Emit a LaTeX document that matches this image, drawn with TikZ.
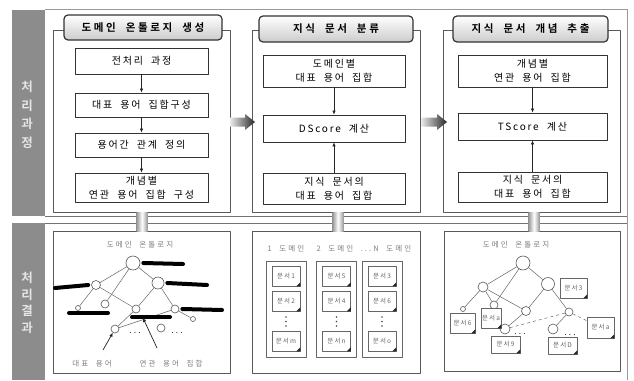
\documentclass[tikz,border=0pt]{standalone}
\usepackage{fontspec}
\setmainfont{Noto Sans CJK KR}
\newfontfamily\krbox[LetterSpace=18, WordSpace=2]{Noto Sans CJK KR}
\newfontfamily\krtitle[LetterSpace=25, WordSpace=2]{Noto Sans CJK KR Bold}
\newfontfamily\krsmall[LetterSpace=28, WordSpace=2]{Noto Sans CJK KR}
\usetikzlibrary{arrows.meta}
\usetikzlibrary{shapes, shadows}

\tikzset{
  band/.style={fill=black!45, draw=none},
  bandtext/.style={text=white!90!black, align=center, font=\krtitle\fontsize{12.5}{18.5}\selectfont},
  panel/.style={draw=black!65, line width=0.6pt},
  titlebox/.style={draw=black!80, line width=1.2pt, rounded corners=4pt, top color=white, bottom color=black!20,
    inner sep=0pt, font=\krtitle\fontsize{10.5}{12}\selectfont},
  procbox/.style={draw=black!80, line width=0.8pt, fill=white, align=center, inner sep=0pt,
    drop shadow={shadow xshift=0.9pt, shadow yshift=-0.9pt, fill=black!50, opacity=1},
    font=\krbox\fontsize{10}{14}\selectfont},
  flow/.style={black!85, line width=0.6pt, ->},
  graytext/.style={text=black!50, inner sep=0pt, font=\krsmall\fontsize{7.5}{9}\selectfont},
  colbox/.style={draw=black!60, line width=0.6pt, minimum width=40pt, minimum height=96pt, inner sep=0pt},
  doc/.style={draw=black!60, fill=white, line width=0.5pt, minimum width=28pt, minimum height=20pt, inner sep=0pt,
    text=black!60, font=\krbox\fontsize{6.5}{8}\selectfont},
  tnode/.style={circle, draw=black!65, fill=white, line width=0.6pt, inner sep=0pt, minimum size=#1},
  tedge/.style={draw=black!60, line width=0.5pt},
  bar/.style={black, line width=4pt, line cap=round},
}
\newcommand{\docfold}[1]{\fill[black!85] (#1.south east) -- ([xshift=-4pt]#1.south east) -- ([yshift=4pt]#1.south east) -- cycle;}

\begin{document}
\begin{tikzpicture}[x=1pt,y=-1pt,>={Latex[length=4pt,width=3.5pt]},line join=bevel]
\useasboundingbox (0,0) rectangle (634,380);
\fill[white] (0,0) rectangle (634,380);
%% frame and side band
\fill[band] (12,10) rectangle (45,216);
\fill[band] (12,223) rectangle (45,380);
\draw[black!40, line width=0.5pt] (45,9) -- (627,9) -- (627,380);
\draw[black!55, line width=0.7pt] (45,216) -- (627,216);
\draw[black!55, line width=0.7pt] (45,223) -- (627,223);
\node (band_top) at (27,115) [bandtext] {처\\리\\과\\정};
\node (band_bot) at (27,303) [bandtext, font=\krtitle\fontsize{12.5}{16.5}\selectfont] {처\\리\\결\\과};
%
\draw[panel] (53,30) rectangle (230,212);
\draw[panel] (252,30) rectangle (420,212);
\draw[panel] (443,30) rectangle (620,212);
\draw[panel] (53,231) rectangle (230,373);
\draw[panel] (252,231) rectangle (420,373);
\draw[panel] (444,231) rectangle (620,371);
%% links between the two rows
\foreach \cx in {142,338,534} {
  \shade[left color=black!40, right color=black!40, middle color=white] (\cx-5.5,212) rectangle (\cx+5.5,231);
}
%% arrows between panels
\shade[left color=black!8, right color=black!85] (230,117.5) -- (245,117.5) -- (245,114) -- (255,122) -- (245,130) -- (245,126.5) -- (230,126.5) -- cycle;
\shade[left color=black!8, right color=black!85] (421,117.5) -- (437,117.5) -- (437,114) -- (447,122) -- (437,130) -- (437,126.5) -- (421,126.5) -- cycle;
%% panel titles
\node (title_1) at (143,27.5) [titlebox, minimum width=158pt, minimum height=25pt] {도메인 온톨로지 생성};
\node (title_2) at (336,29) [titlebox, minimum width=154pt, minimum height=26pt] {지식 문서 분류};
\node (title_3) at (530.5,29) [titlebox, minimum width=155pt, minimum height=26pt] {지식 문서 개념 추출};
%% process steps
\node (box_1_1) at (141.5,61) [procbox, minimum width=133pt, minimum height=26pt] {전처리 과정};
\node (box_1_2) at (141.5,105) [procbox, minimum width=133pt, minimum height=24pt] {대표 용어 집합구성};
\node (box_1_3) at (141.5,145) [procbox, minimum width=133pt, minimum height=24pt] {용어간 관계 정의};
\node (box_1_4) at (141.5,187.5) [procbox, minimum width=133pt, minimum height=29pt] {개념별\\연관 용어 집합 구성};
\draw [flow] (box_1_1) -- (box_1_2);
\draw [flow] (box_1_2) -- (box_1_3);
\draw [flow] (box_1_3) -- (box_1_4);
\node (box_2_1) at (334,71) [procbox, minimum width=142pt, minimum height=32pt] {도메인별\\대표 용어 집합};
\node (box_2_2) at (334,128.5) [procbox, minimum width=142pt, minimum height=27pt] {DScore 계산};
\node (box_2_3) at (334,188.5) [procbox, minimum width=142pt, minimum height=31pt] {지식 문서의\\대표 용어 집합};
\draw [flow] (box_2_1) -- (box_2_2);
\draw [flow] (box_2_3) -- (box_2_2);
\node (box_3_1) at (532.5,71) [procbox, minimum width=149pt, minimum height=32pt] {개념별\\연관 용어 집합};
\node (box_3_2) at (532.5,126.5) [procbox, minimum width=149pt, minimum height=27pt] {TScore 계산};
\node (box_3_3) at (532.5,187) [procbox, minimum width=149pt, minimum height=30pt] {지식 문서의\\대표 용어 집합};
\draw [flow] (box_3_1) -- (box_3_2);
\draw [flow] (box_3_3) -- (box_3_2);
%% result 1: domain ontology
\node (onto_1) at (140,245) [graytext] {도메인 온톨로지};
\node (t1_root) at (133,263) [tnode=14pt] {};
\node (t1_a) at (96,285) [tnode=9pt] {};
\node (t1_b) at (158,283) [tnode=12pt] {};
\node (t1_c) at (78,308) [tnode=5pt] {};
\node (t1_d) at (105,304) [tnode=8pt] {};
\node (t1_e) at (136,309) [tnode=8pt] {};
\node (t1_f) at (175,309) [tnode=8pt] {};
\node (t1_g) at (193,319) [tnode=5pt] {};
\node (t1_h) at (115,329) [tnode=8pt] {};
\node (t1_i) at (161,328) [tnode=8pt] {};
\draw [tedge] (t1_root) -- (t1_a);
\draw [tedge] (t1_root) -- (t1_d);
\draw [tedge] (t1_root) -- (t1_b);
\draw [tedge] (t1_a) -- (t1_c);
\draw [tedge] (t1_a) -- (t1_e);
\draw [tedge] (t1_b) -- (t1_e);
\draw [tedge] (t1_b) -- (t1_f);
\draw [tedge] (t1_f) -- (t1_g);
\draw [tedge] (t1_h) -- (t1_e);
\draw [tedge] (t1_h) -- (t1_f);
\draw [bar] ([xshift=3pt]t1_root.east) -- (183,264);
\draw [bar] (55,288) -- ([xshift=-3pt]t1_a.west);
\draw [bar] ([xshift=3pt]t1_b.east) -- (207,285);
\draw [bar] (69,313) -- (108,313);
\draw [bar] ([xshift=3pt]t1_f.east) -- (222,310);
\coordinate (bar_mid) at (143,318);
\draw [bar] (132,317) -- (170,317);
\node (dots_1a) at (135,333) {$\cdots$};
\node (dots_1b) at (177,333) {$\cdots$};
\node (lab_rep) at (92,364) [graytext] {대표 용어};
\node (lab_rel) at (171,364) [graytext] {연관 용어 집합};
\coordinate (arr_rep) at (103,350);
\coordinate (arr_rel) at (157,348);
\draw [->, black!85, line width=0.7pt] (arr_rep) -- (t1_h);
\draw [->, black!85, line width=0.7pt] (arr_rel) -- (bar_mid);
%% result 2: documents per domain
\node (dom_1) at (286,249) [graytext] {1 도메인};
\node (dom_2) at (335,249) [graytext] {2 도메인};
\node (dom_n) at (386,249) [graytext] {...N 도메인};
\node (col_1) at (286,309) [colbox] {};
\node (col_2) at (336.5,309) [colbox] {};
\node (col_3) at (382,309) [colbox] {};
\foreach \cx/\k/\da/\db/\dz in {286/1/1/2/m, 336.5/2/5/4/n, 382/3/3/6/o} {
  \node (doc_\k_a) at (\cx,276) [doc] {문서\da};
  \node (doc_\k_b) at (\cx,301) [doc] {문서\db};
  \node (doc_\k_z) at (\cx,341) [doc] {문서\dz};
  \foreach \dy in {317,321.5,326} { \fill[black!70] (\cx,\dy) circle (0.9pt); }
  \docfold{doc_\k_a}
  \docfold{doc_\k_b}
  \docfold{doc_\k_z}
}
%% result 3: documents on the ontology
\node (onto_3) at (516,245) [graytext] {도메인 온톨로지};
\node (t3_root) at (523,263) [tnode=14pt] {};
\node (t3_a) at (483,287) [tnode=10pt] {};
\node (t3_b) at (548,284) [tnode=13pt] {};
\node (t3_c) at (463,309) [tnode=5pt] {};
\node (t3_d) at (494,305) [tnode=8pt] {};
\node (t3_e) at (526,311) [tnode=9pt] {};
\node (t3_f) at (569,312) [tnode=8pt] {};
\node (t3_g) at (505,329) [tnode=10pt] {};
\node (t3_h) at (553,329) [tnode=10pt] {};
\draw [tedge] (t3_root) -- (t3_a);
\draw [tedge] (t3_root) -- (t3_b);
\draw [tedge] (t3_root) -- (t3_d);
\draw [tedge] (t3_a) -- (t3_c);
\draw [tedge] (t3_a) -- (t3_d);
\draw [tedge] (t3_a) -- (t3_e);
\draw [tedge] (t3_b) -- (t3_e);
\draw [tedge] (t3_b) -- (t3_f);
\draw [tedge] (t3_e) -- (t3_g);
\draw [tedge] (t3_f) -- (t3_h);
\draw [tedge, dashed] (t3_f) -- (t3_g);
\node (doc_t_1) at (462.5,323) [doc, minimum width=25pt] {문서6};
\node (doc_t_2) at (491,318) [doc, minimum width=20pt] {문서a};
\node (doc_t_3) at (573.5,288) [doc, minimum width=27pt] {문서3};
\node (doc_t_4) at (505.5,344.5) [doc, minimum width=29pt, minimum height=17pt] {문서9};
\node (doc_t_5) at (562.5,345.5) [doc, minimum width=29pt, minimum height=17pt] {문서D};
\node (doc_t_6) at (600.5,327.5) [doc, minimum width=27pt, minimum height=21pt] {문서a};
\draw [tedge, dashed] (t3_f) -- (doc_t_6);
\foreach \k in {1,...,6} { \docfold{doc_t_\k} }
\node (dots_3a) at (520,334) {$\cdots$};
\node (dots_3b) at (570,335) {$\cdots$};
%
\end{tikzpicture}
\end{document}
